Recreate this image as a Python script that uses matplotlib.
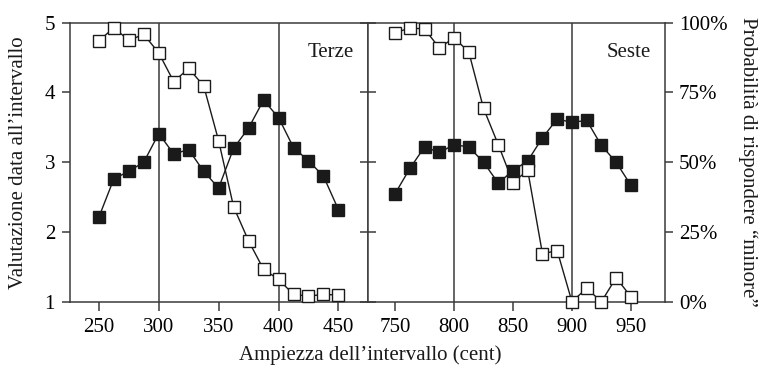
import matplotlib
matplotlib.use("Agg")
import matplotlib.pyplot as plt
from matplotlib.ticker import FuncFormatter
import numpy as np

# ---- data ----
terze_cents = [250, 262.5, 275, 287.5, 300, 312.5, 325, 337.5, 350, 362.5,
               375, 387.5, 400, 412.5, 425, 437.5, 450]
terze_rating = [2.21, 2.76, 2.87, 3.00, 3.41, 3.12, 3.18, 2.87, 2.63, 3.20,
                3.49, 3.89, 3.64, 3.21, 3.02, 2.80, 2.32]
terze_minor = [0.935, 0.982, 0.937, 0.958, 0.892, 0.789, 0.836, 0.774, 0.577, 0.340,
               0.218, 0.116, 0.080, 0.026, 0.020, 0.026, 0.024]

seste_cents = [750, 762.5, 775, 787.5, 800, 812.5, 825, 837.5, 850, 862.5,
               875, 887.5, 900, 912.5, 925, 937.5, 950]
seste_rating = [2.55, 2.91, 3.22, 3.14, 3.25, 3.22, 3.00, 2.70, 2.88, 3.02,
                3.35, 3.62, 3.57, 3.60, 3.24, 3.00, 2.67]
seste_minor = [0.963, 0.982, 0.977, 0.910, 0.946, 0.895, 0.693, 0.563, 0.427, 0.471,
               0.172, 0.183, 0.0, 0.048, 0.0, 0.086, 0.018]

terze_ticks = [250, 300, 350, 400, 450]
seste_ticks = [750, 800, 850, 900, 950]
terze_refs = [300, 400]
seste_refs = [800, 900]
rating_ticks = [1, 2, 3, 4, 5]
prob_ticks = [0, 0.25, 0.5, 0.75, 1.0]

panel_names = ["Terze", "Seste"]
xlabel = "Ampiezza dell’intervallo (cent)"
ylabel_left = "Valutazione data all’intervallo"
ylabel_right = "Probabilità di rispondere “minore”"

# ---- style ----
plt.rcParams['font.family'] = ['Liberation Serif', 'DejaVu Serif']
FS = 15
SPINE = '#3a3a3a'
INK = '#1a1a1a'

fig = plt.figure(figsize=(7.61, 3.70), dpi=100)
ax1 = fig.add_axes([0.0924, 0.1846, 0.3912, 0.754])
ax2 = fig.add_axes([0.4836, 0.1846, 0.3903, 0.754])

panels = [
    (ax1, terze_cents, terze_rating, terze_minor, terze_ticks, terze_refs, (226.2, 474.7)),
    (ax2, seste_cents, seste_rating, seste_minor, seste_ticks, seste_refs, (727.0, 979.0)),
]

twins = []
for i, (ax, cx, rat, mino, xt, refs, xl) in enumerate(panels):
    ax.set_xlim(*xl)
    ax.set_ylim(1, 5)
    for s in ax.spines.values():
        s.set_color(SPINE)
        s.set_linewidth(1.1)
    for r in refs:
        ax.axvline(r, color=SPINE, lw=1.1, zorder=1)
    ax.plot(cx, rat, color=INK, lw=1.0, marker='s', ms=8.5,
            mfc=INK, mec=INK, mew=1.0, zorder=3, clip_on=False)
    ax.set_xticks(xt)
    ax.tick_params(axis='x', direction='out', length=6.5, width=1.1, color=SPINE,
                   labelsize=FS, pad=5.5, top=False)
    ax.set_yticks(rating_ticks)
    ax.text(0.953, 0.895, panel_names[i], transform=ax.transAxes, ha='right',
            va='center', fontsize=FS, color=INK, zorder=5)

    t = ax.twinx()
    t.set_ylim(0, 1)
    t.set_xlim(*xl)
    for s in t.spines.values():
        s.set_visible(False)
    t.plot(cx, mino, color=INK, lw=1.0, marker='s', ms=8.5,
           mfc='white', mec=INK, mew=1.0, zorder=3, clip_on=False)
    twins.append(t)

# left panel y axis: outward ticks with labels on the left only
ax1.tick_params(axis='y', direction='out', length=6, width=1.1, color=SPINE,
                labelsize=FS, pad=5, right=False)
twins[0].set_yticks([])

# right panel: divider ticks crossing both sides, no labels
ax2.tick_params(axis='y', direction='inout', length=11.5, width=1.1, color=SPINE,
                left=True, labelleft=False, right=False)
twins[1].set_yticks(prob_ticks)
twins[1].yaxis.set_major_formatter(FuncFormatter(lambda v, p: f"{int(round(v * 100))}%"))
twins[1].tick_params(axis='y', direction='out', length=6, width=1.1, color=SPINE,
                     labelsize=FS, pad=4)

fig.text(0.486, 0.04, xlabel, ha='center', va='center', fontsize=FS, color=INK)
fig.text(0.024, 0.5615, ylabel_left, rotation=90, ha='center', va='center',
         fontsize=FS, color=INK)
fig.text(0.983, 0.5615, ylabel_right, rotation=-90, ha='center', va='center',
         fontsize=FS, color=INK)

fig.savefig("out.png", dpi=100)
